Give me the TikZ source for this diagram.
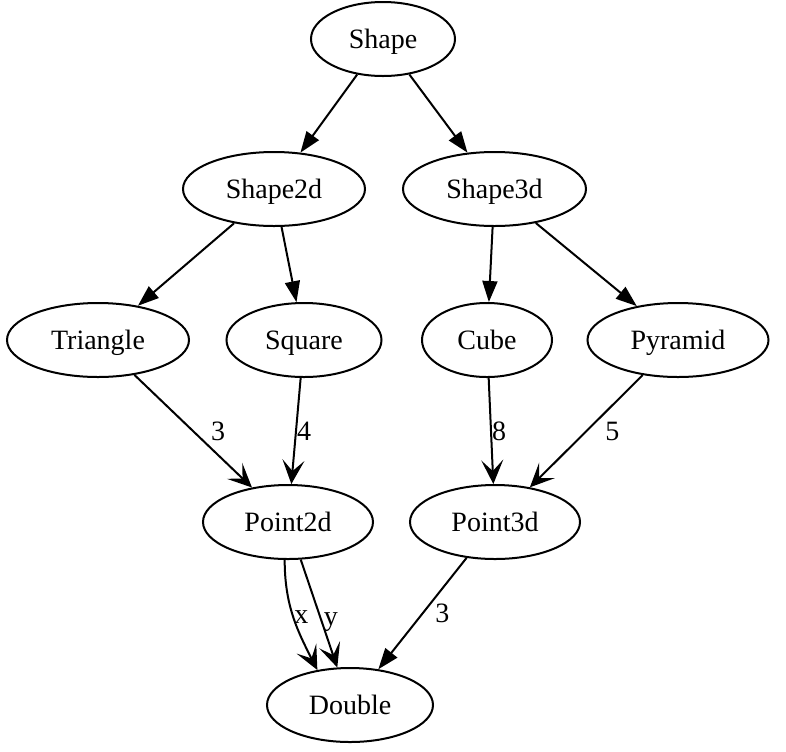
\documentclass[tikz,border=0pt]{standalone}
\usepackage{fontspec}
\setmainfont{Liberation Serif}
\usepackage{tikz}
\usetikzlibrary{shapes.geometric, arrows.meta, positioning, calc}
\tikzset{
	cls/.style      ={ellipse, draw=black, line width=1pt, minimum height=37pt, inner sep=0pt, text height=11pt, text depth=1.7pt},
	isa/.style      ={-{Triangle[length=10.5pt, width=7.5pt]}, line width=1pt},
	uses/.style     ={-{Stealth[length=12pt, width=11pt, inset=5.5pt]}, line width=1pt},
	lbl/.style      ={inner sep=0pt},
}
\begin{document}
\begin{tikzpicture}[font=\fontsize{14pt}{16pt}\selectfont, node distance=37pt and 17.5pt]
			\node[cls, minimum width=72pt] (shape) {Shape};
			\node[cls, below=of shape, xshift=-54.5pt, minimum width=91pt] (shape2d) {Shape2d};
			\node[cls, right=18pt of shape2d, minimum width=91.5pt] (shape3d) {Shape3d};
			\node[cls, below=37.5pt of shape2d, xshift=15pt, minimum width=77.5pt] (square) {Square};
			\node[cls, left=17.75pt of square, minimum width=91pt] (triangle) {Triangle};
			\node[cls, right=19.25pt of square, minimum width=65pt] (cube) {Cube};
			\node[cls, right=16.75pt of cube, minimum width=90.5pt] (pyramid) {Pyramid};
			\node[cls, below=53pt of square, xshift=-8pt, minimum width=85pt] (point2d) {Point2d};
			\node[cls, right=of point2d, minimum width=85pt] (point3d) {Point3d};
			\node[cls, below=53.5pt of point2d, xshift=31pt, minimum width=83pt] (double) {Double};
			\useasboundingbox ($(shape.center)+(-191.5pt,19.5pt)$) rectangle ++(393pt,-375.5pt);
			% inheritance
			\draw[isa] (shape) -- (shape2d);
			\draw[isa] (shape) -- (shape3d);
			\draw[isa] (shape2d) -- (triangle);
			\draw[isa] (shape2d) -- (square);
			\draw[isa] (shape3d) -- (cube);
			\draw[isa] (shape3d) -- (pyramid);
			% members
			\draw[uses] (triangle) -- node[lbl, right=8.5pt] {3} (point2d);
			\draw[uses] (square) -- node[lbl, right=0pt] {4} (point2d);
			\draw[uses] (cube) -- node[lbl, right=0pt] {8} (point3d);
			\draw[uses] (pyramid) -- node[lbl, right=9pt] {5} (point3d);
			\draw[uses] (point2d.265) to[out=-90, in=117] node[lbl, right=0pt] {x} (double.133);
			\draw[uses] (point2d) -- node[lbl, pos=0.58, right=0.5pt] {y} (double);
			\draw[isa] (point3d) -- node[lbl, right=6pt] {3} (double);
		\end{tikzpicture}
\end{document}
